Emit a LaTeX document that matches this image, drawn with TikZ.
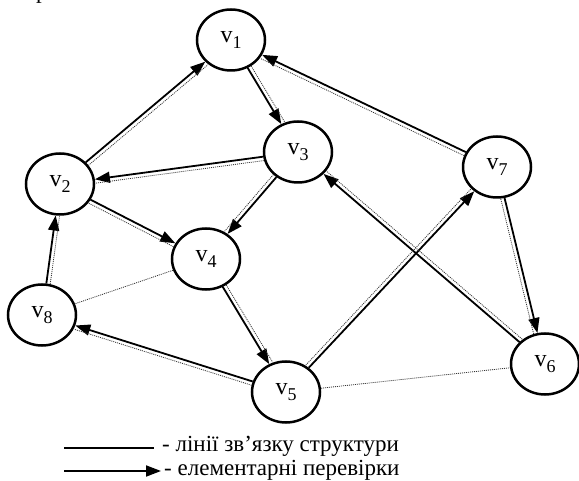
\documentclass[tikz,border=0pt]{standalone}
\usepackage{fontspec}
\setmainfont{Liberation Serif}
\usetikzlibrary{arrows.meta,shapes.geometric}
\newcommand{\vlab}[1]{v\raisebox{-0.22em}{\fontsize{18}{18}\selectfont #1}}
\begin{document}
\begin{tikzpicture}[x=1pt,y=-1pt,
  vert/.style={ellipse,draw,line width=2.5pt,minimum width=68pt,minimum height=61pt,inner sep=0pt,font=\fontsize{24}{24}\selectfont},
  arr/.style={line width=1.8pt,-{Triangle[length=15pt,width=11pt]}},
  dots/.style={line width=0.8pt,dash pattern=on 1pt off 1pt,draw=black!80},
  lbl/.style={anchor=west,inner sep=0pt,font=\fontsize{23}{23}\selectfont}]
\useasboundingbox (0,0) rectangle (579,481);
\node[lbl] (top) at (20,-7) {а рис. 3.};
\node[vert] (v1) at (231,40) {\vlab{1}};
\node[vert] (v2) at (60,184) {\vlab{2}};
\node[vert] (v3) at (298,152) {\vlab{3}};
\node[vert] (v4) at (206,259) {\vlab{4}};
\node[vert] (v5) at (286,392) {\vlab{5}};
\node[vert] (v6) at (545,364) {\vlab{6}};
\node[vert] (v7) at (497,167) {\vlab{7}};
\node[vert] (v8) at (42,315) {\vlab{8}};
% elementary checks
\draw[arr] (v2) -- (v1);
\draw[arr] (v1) -- (v3);
\draw[arr] (v3) -- (v2);
\draw[arr] (v2) -- (v4);
\draw[arr] (v3) -- (v4);
\draw[arr] (v7) -- (v1);
\draw[arr] (v7) -- (v6);
\draw[arr] (v6) -- (v3);
\draw[arr] (v5) -- (v7);
\draw[arr] (v4) -- (v5);
\draw[arr] (v5) -- (v8);
\draw[arr] (v8) -- (v2);
% structure lines
\draw[dots,transform canvas={shift={(2.6,3.1)}}] (v2) -- (v1);
\draw[dots,transform canvas={shift={(3.4,-2.0)}}] (v1) -- (v3);
\draw[dots,transform canvas={shift={(0.5,3.9)}}] (v3) -- (v2);
\draw[dots,transform canvas={shift={(-1.8,3.5)}}] (v2) -- (v4);
\draw[dots,transform canvas={shift={(-3.0,-2.6)}}] (v3) -- (v4);
\draw[dots,transform canvas={shift={(-1.7,3.6)}}] (v7) -- (v1);
\draw[dots,transform canvas={shift={(-3.8,0.9)}}] (v7) -- (v6);
\draw[dots,transform canvas={shift={(2.6,-3.0)}}] (v6) -- (v3);
\draw[dots,transform canvas={shift={(-2.9,-2.7)}}] (v5) -- (v7);
\draw[dots,transform canvas={shift={(3.4,-2.0)}}] (v4) -- (v5);
\draw[dots,transform canvas={shift={(-1.2,3.7)}}] (v5) -- (v8);
\draw[dots,transform canvas={shift={(3.9,0.5)}}] (v8) -- (v2);
\draw[dots] (v4) -- (v8);
\draw[dots] (v5) -- (v6);
% legend
\coordinate (l1a) at (64,448);
\coordinate (l1b) at (154,448);
\coordinate (l2a) at (64,471);
\coordinate (l2b) at (161,471);
\draw[line width=1.8pt] (l1a) -- (l1b);
\draw[arr] (l2a) -- (l2b);
\node[lbl] (t1) at (162,446) {- лінії зв’язку структури};
\node[lbl] (t2) at (164,470) {- елементарні перевірки};
\end{tikzpicture}
\end{document}
